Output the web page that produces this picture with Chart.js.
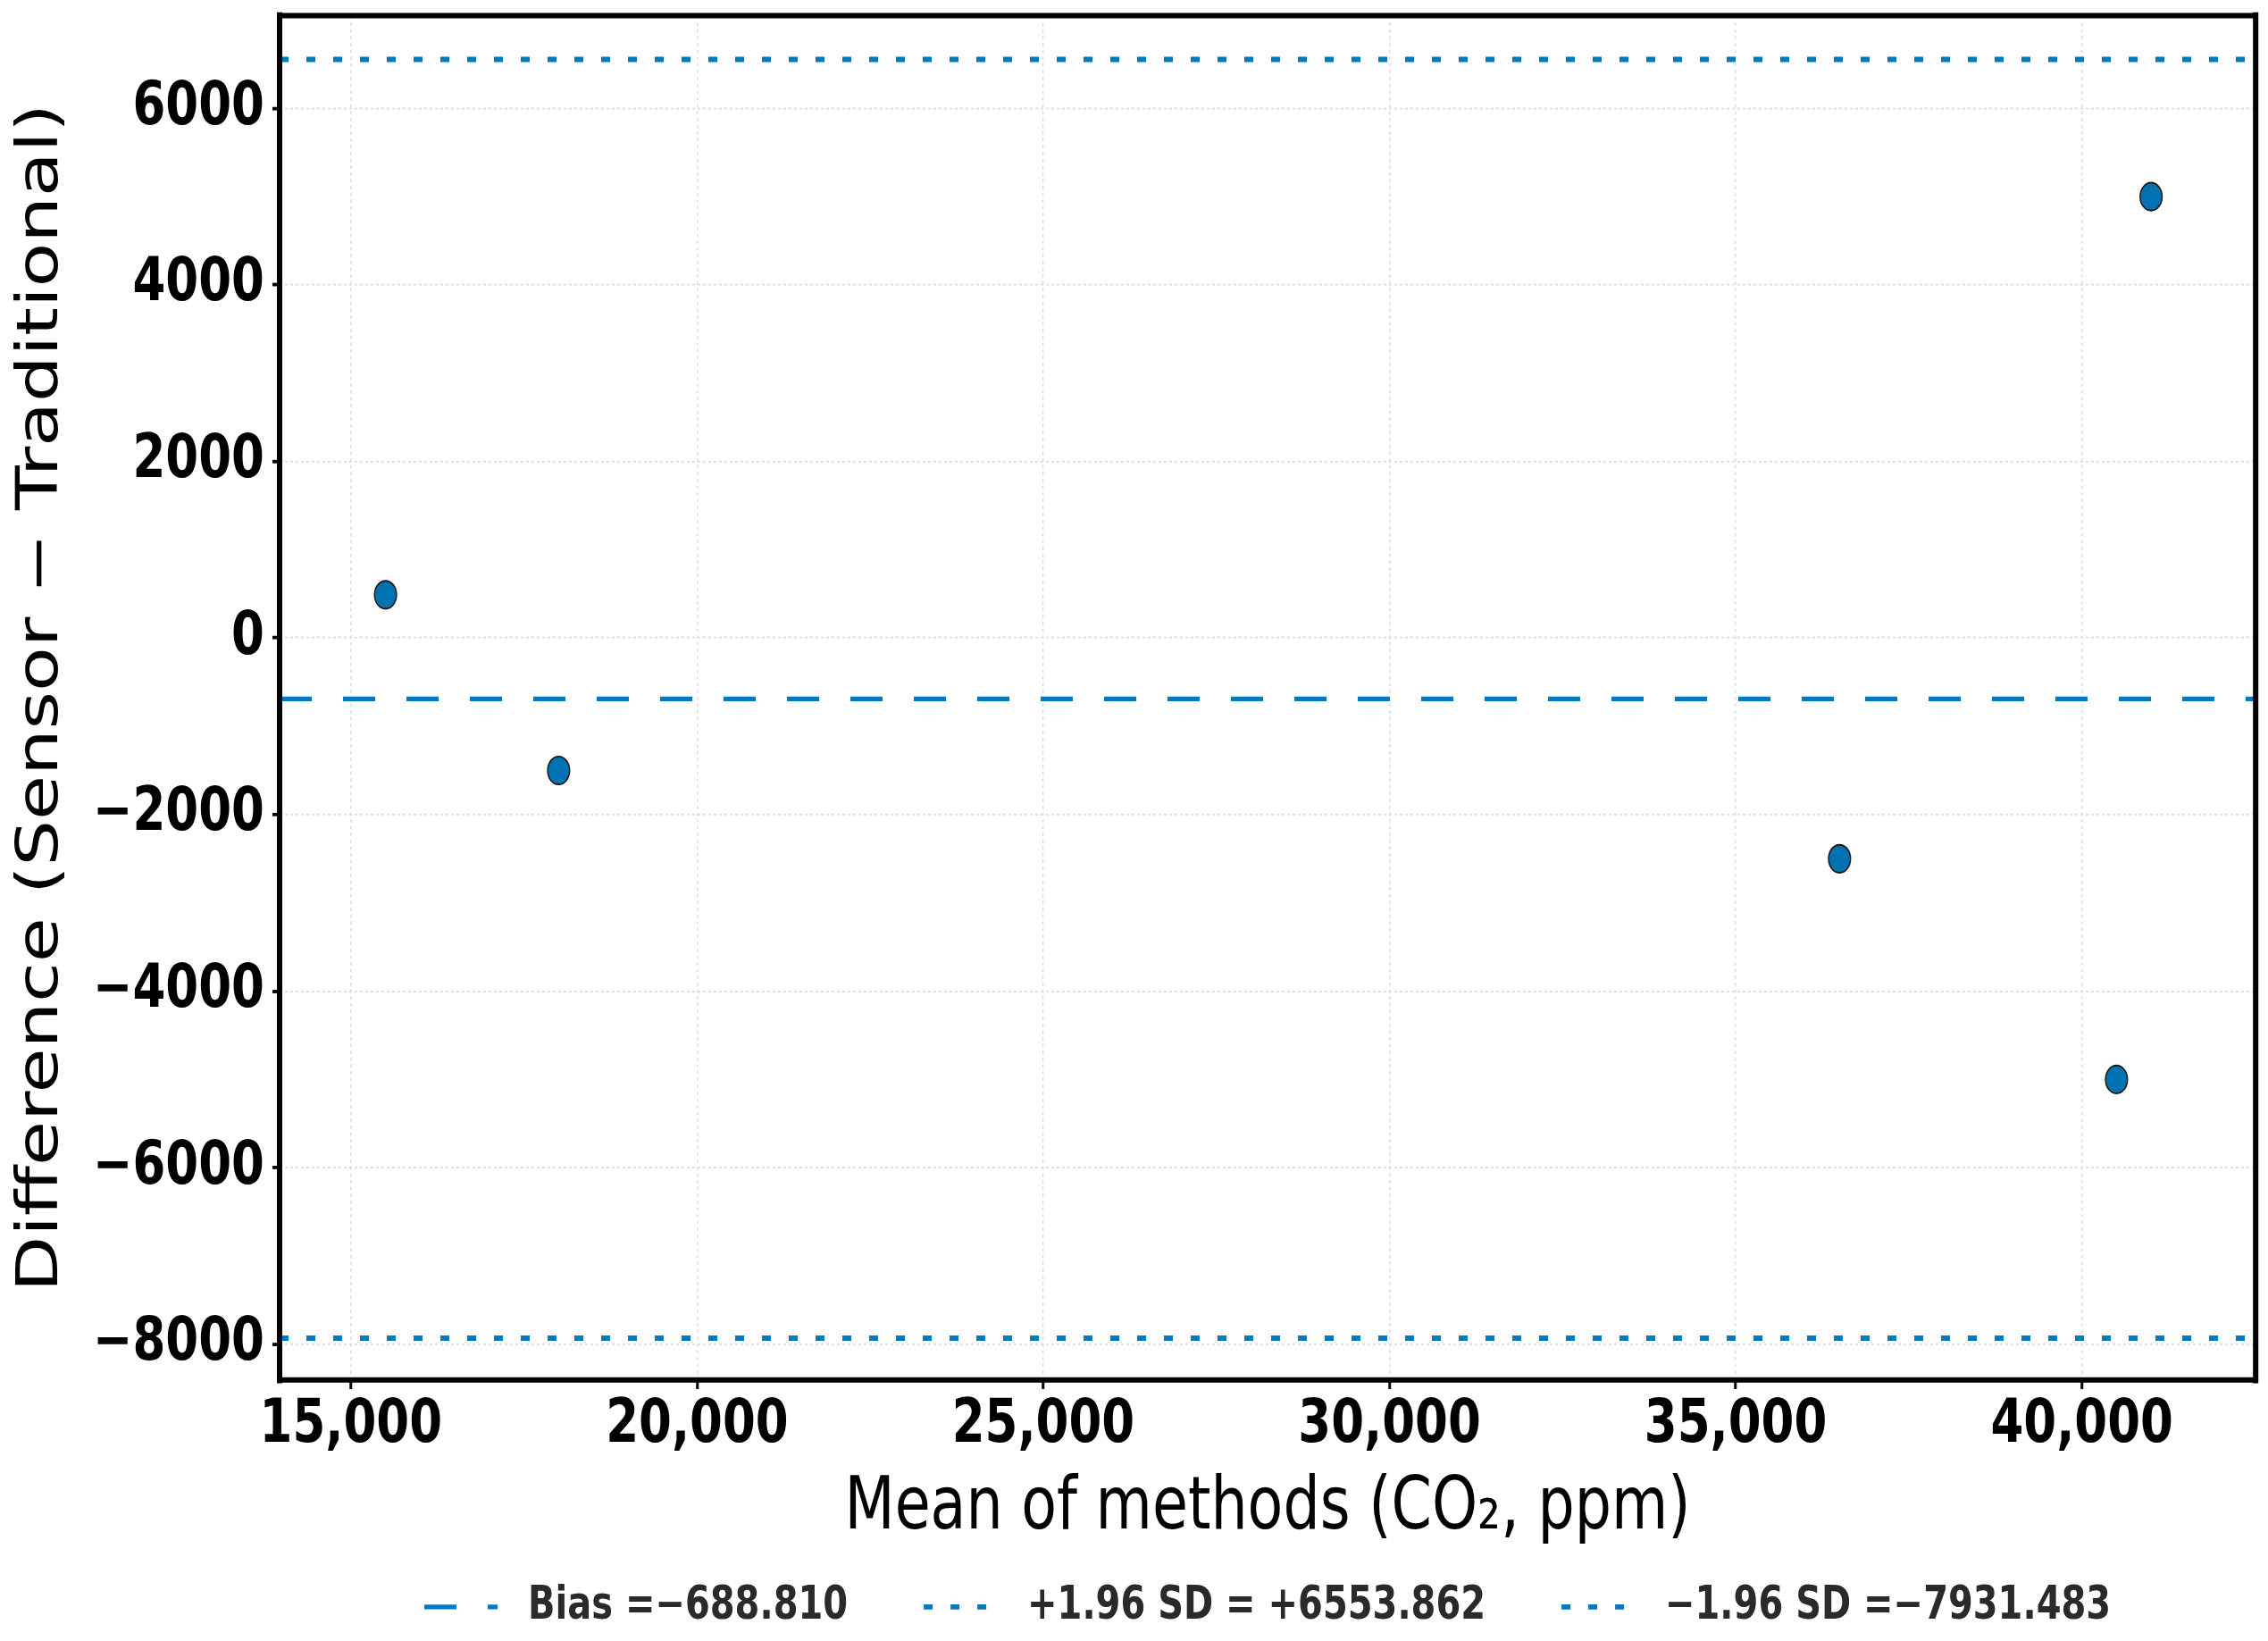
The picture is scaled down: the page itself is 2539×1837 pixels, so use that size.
<!DOCTYPE html>
<html>
<head>
<meta charset="utf-8">
<script src="https://cdn.jsdelivr.net/npm/chart.js@4.4.1/dist/chart.umd.min.js"></script>
<style>
  html, body { margin: 0; padding: 0; background: #fff; overflow: hidden; }
  #blandAltman { display: block; }
</style>
</head>
<body>
<canvas id="blandAltman" width="2539" height="1446"></canvas>
<script>
// Values
const meanValues = [15500, 18000, 36500, 40500, 41000];
const diffValues = [490, -1500, -2500, -5000, 5000];
const biasValue = -688.810;
const upperLimit = 6553.862;
const lowerLimit = -7931.483;
const lineLabels = ['Bias =\u2212688.810', '+1.96 SD = +6553.862', '\u22121.96 SD =\u22127931.483'];
const xTicks = [15000, 20000, 25000, 30000, 35000, 40000];
const yTicks = [-8000, -6000, -4000, -2000, 0, 2000, 4000, 6000];
const xRange = [13970, 42510];
const yRange = [-8404, 7050];

const markerBlue = '#0072B2';
const lineBlue = '#0479BD';
const fontFamily = "'DejaVu Sans', sans-serif";
const pageHeight = 1837; // the reference is stretched vertically: layout at 1446, shown at 1837

const points = meanValues.map((m, i) => ({ x: m, y: diffValues[i] }));
const hLine = y => [{ x: xRange[0], y: y }, { x: xRange[1], y: y }];

// stretch the whole drawing vertically to the canvas height
const stretch = {
    id: 'stretch',
    beforeDraw(chart) {
        chart.ctx.setTransform(1, 0, 0, chart.canvas.height / chart.height, 0, 0);
    }
};

// black box around the plot area (matplotlib spines)
const frame = {
    id: 'frame',
    afterDatasetsDraw(chart) {
        const { ctx, chartArea: a } = chart;
        ctx.save();
        ctx.strokeStyle = '#000';
        ctx.lineCap = 'square';
        ctx.lineWidth = 4.7;
        ctx.beginPath();
        ctx.moveTo(a.left, a.top); ctx.lineTo(a.right, a.top);
        ctx.moveTo(a.left, a.bottom); ctx.lineTo(a.right, a.bottom);
        ctx.stroke();
        ctx.lineWidth = 6;
        ctx.beginPath();
        ctx.moveTo(a.left, a.top); ctx.lineTo(a.left, a.bottom);
        ctx.moveTo(a.right, a.top); ctx.lineTo(a.right, a.bottom);
        ctx.stroke();
        ctx.restore();
    }
};

const gridStyle = {
    color: '#dedede',
    lineWidth: 1.5,
    borderDash: [3, 3],
    tickColor: '#000',
    tickWidth: 3,
    tickLength: 8
};

const canvas = document.getElementById('blandAltman');
const chart = new Chart(canvas.getContext('2d'), {
    type: 'scatter',
    data: {
        datasets: [
            {
                label: 'points',
                data: points,
                backgroundColor: markerBlue,
                borderColor: '#1a1a1a',
                borderWidth: 1.5,
                pointRadius: 12.3,
                pointHoverRadius: 12.3,
                order: 0
            },
            {
                type: 'line',
                label: lineLabels[0],
                data: hLine(biasValue),
                borderColor: lineBlue,
                backgroundColor: lineBlue,
                borderWidth: 4.2,
                borderDash: [36, 35],
                pointRadius: 0,
                fill: false,
                order: 1
            },
            {
                type: 'line',
                label: lineLabels[1],
                data: hLine(upperLimit),
                borderColor: lineBlue,
                backgroundColor: lineBlue,
                borderWidth: 4.7,
                borderDash: [10, 20],
                pointRadius: 0,
                fill: false,
                order: 2
            },
            {
                type: 'line',
                label: lineLabels[2],
                data: hLine(lowerLimit),
                borderColor: lineBlue,
                backgroundColor: lineBlue,
                borderWidth: 4.7,
                borderDash: [10, 20],
                pointRadius: 0,
                fill: false,
                order: 3
            }
        ]
    },
    options: {
        responsive: false,
        devicePixelRatio: 1,
        animation: false,
        events: [],
        layout: { padding: { left: 8, right: 11, top: 12.6, bottom: 0 } },
        plugins: {
            tooltip: { enabled: false },
            legend: {
                position: 'bottom',
                fullSize: false,
                labels: {
                    usePointStyle: true,
                    pointStyle: 'line',
                    pointStyleWidth: 82,
                    padding: 85,
                    color: '#2a2a2a',
                    font: { family: fontFamily, size: 40, weight: 'bold' },
                    filter: item => item.datasetIndex > 0,
                    generateLabels: function (chart) {
                        const items = Chart.defaults.plugins.legend.labels.generateLabels(chart);
                        // point style picks up the point options, so copy the line's own dash and width
                        items.forEach(item => {
                            const ds = chart.data.datasets[item.datasetIndex];
                            item.text = ' ' + item.text;
                            item.strokeStyle = ds.borderColor;
                            item.lineWidth = ds.borderWidth;
                            item.lineDash = ds.borderDash || [];
                            item.lineCap = 'butt';
                        });
                        return items;
                    }
                }
            }
        },
        scales: {
            x: {
                type: 'linear',
                min: xRange[0],
                max: xRange[1],
                afterBuildTicks: scale => { scale.ticks = xTicks.map(v => ({ value: v })); },
                afterFit: scale => {
                    scale.height = 95;
                    scale.paddingLeft = 0;
                    scale.paddingRight = 0;
                },
                grid: gridStyle,
                border: { display: false, dash: [3, 3] },
                ticks: {
                    padding: 1,
                    maxRotation: 0,
                    autoSkip: false,
                    color: '#000',
                    font: { family: fontFamily, size: 53, weight: 'bold' },
                    callback: value => value.toLocaleString('en-US')
                },
                title: {
                    display: true,
                    text: 'Mean of methods (CO\u2082, ppm)',
                    color: '#000',
                    padding: { top: 0, bottom: -58 },
                    font: { family: fontFamily, size: 65, weight: 'normal' }
                }
            },
            y: {
                type: 'linear',
                min: yRange[0],
                max: yRange[1],
                afterBuildTicks: scale => { scale.ticks = yTicks.map(v => ({ value: v })); },
                afterFit: scale => {
                    scale.width = 305;
                    scale.paddingTop = 0;
                    scale.paddingBottom = 0;
                },
                grid: gridStyle,
                border: { display: false, dash: [3, 3] },
                ticks: {
                    padding: 9,
                    color: '#000',
                    font: { family: fontFamily, size: 53, weight: 'bold' },
                    callback: value => (value < 0 ? '\u2212' : '') + Math.abs(value)
                },
                title: {
                    display: true,
                    text: 'Difference (Sensor \u2212 Traditional)',
                    color: '#000',
                    padding: { top: 1, bottom: 0 },
                    font: { family: fontFamily, size: 64, weight: 'normal' }
                }
            }
        }
    },
    plugins: [stretch, frame]
});

// grow the canvas to the page height and redraw stretched
canvas.height = pageHeight;
canvas.style.height = pageHeight + 'px';
chart.draw();
</script>
</body>
</html>
